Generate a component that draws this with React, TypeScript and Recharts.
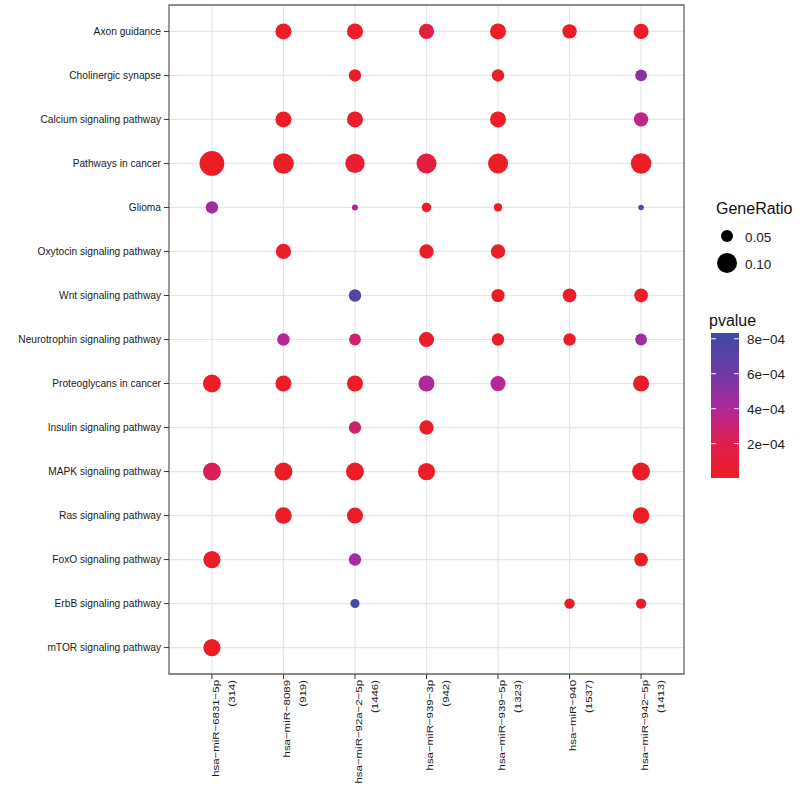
import React from "react";
import {
  ScatterChart,
  Scatter,
  XAxis,
  YAxis,
  ZAxis,
  CartesianGrid,
  ReferenceArea,
  Cell,
} from "recharts";

const pathways = [
  "Axon guidance",
  "Cholinergic synapse",
  "Calcium signaling pathway",
  "Pathways in cancer",
  "Glioma",
  "Oxytocin signaling pathway",
  "Wnt signaling pathway",
  "Neurotrophin signaling pathway",
  "Proteoglycans in cancer",
  "Insulin signaling pathway",
  "MAPK signaling pathway",
  "Ras signaling pathway",
  "FoxO signaling pathway",
  "ErbB signaling pathway",
  "mTOR signaling pathway",
];

const clusters = [
  "hsa−miR−6831−5p",
  "hsa−miR−8089",
  "hsa−miR−92a−2−5p",
  "hsa−miR−939−3p",
  "hsa−miR−939−5p",
  "hsa−miR−940",
  "hsa−miR−942−5p",
];
const clusterCounts = ["(314)", "(919)", "(1446)", "(942)", "(1323)", "(1537)", "(1413)"];

const _ = null;
// GeneRatio per pathway (rows) x cluster (columns)
const geneRatio: (number | null)[][] = [
  [_, 0.072, 0.072, 0.067, 0.072, 0.062, 0.067],
  [_, _, 0.052, _, 0.052, _, 0.049],
  [_, 0.072, 0.072, _, 0.072, _, 0.062],
  [0.142, 0.105, 0.095, 0.1, 0.1, _, 0.105],
  [0.052, _, 0.029, 0.04, 0.035, _, 0.028],
  [_, 0.067, _, 0.062, 0.062, _, _],
  [_, _, 0.052, _, 0.056, 0.059, 0.059],
  [_, 0.052, 0.049, 0.067, 0.052, 0.052, 0.049],
  [0.085, 0.072, 0.072, 0.072, 0.067, _, 0.072],
  [_, _, 0.052, 0.062, _, _, _],
  [0.085, 0.085, 0.085, 0.08, _, _, 0.085],
  [_, 0.076, 0.072, _, _, _, 0.076],
  [0.08, _, 0.052, _, _, _, 0.059],
  [_, _, 0.038, _, _, 0.043, 0.043],
  [0.08, _, _, _, _, _, _],
];

// p values per pathway (rows) x cluster (columns)
const pvalue: (number | null)[][] = [
  [_, 2e-5, 3e-5, 1.1e-4, 2e-5, 2e-5, 3e-5],
  [_, _, 3e-5, _, 3e-5, _, 5.2e-4],
  [_, 2e-5, 3e-5, _, 2e-5, _, 3.5e-4],
  [1e-5, 2e-5, 7e-5, 1.2e-4, 1e-5, _, 2e-5],
  [4.5e-4, _, 3.5e-4, 2e-5, 2e-5, _, 6e-4],
  [_, 2e-5, _, 2e-5, 2e-5, _, _],
  [_, _, 7.2e-4, _, 2e-5, 2e-5, 2e-5],
  [_, 3.8e-4, 2.8e-4, 2e-5, 2e-5, 2e-5, 4.5e-4],
  [2e-5, 2e-5, 2e-5, 4e-4, 3.8e-4, _, 3e-5],
  [_, _, 2.8e-4, 2e-5, _, _, _],
  [2.3e-4, 2e-5, 2e-5, 2e-5, _, _, 2e-5],
  [_, 2e-5, 2e-5, _, _, _, 2e-5],
  [2e-5, _, 4.3e-4, _, _, _, 2e-5],
  [_, _, 8.2e-4, _, _, 2e-5, 3e-5],
  [2e-5, _, _, _, _, _, _],
];

const sizeLegendValues = [0.05, 0.1];
const pvalueTicks = [2e-4, 4e-4, 6e-4, 8e-4];
const pvalueTickLabels = ["2e−04", "4e−04", "6e−04", "8e−04"];

const P_MIN = 3.5e-6;
const P_MAX = 8.33e-4;
const Z_DOMAIN: [number, number] = [0.0219, 0.15];
const Z_RANGE: [number, number] = [0, 515];

const colorStops: [number, string][] = [
  [0, "#EE1D25"],
  [0.24, "#DE1F4E"],
  [0.48, "#B0289A"],
  [0.72, "#6E3AA6"],
  [1, "#3E4BA5"],
];

function hexToRgb(h: string) {
  return [
    parseInt(h.slice(1, 3), 16),
    parseInt(h.slice(3, 5), 16),
    parseInt(h.slice(5, 7), 16),
  ];
}

function pColor(p: number) {
  const t = Math.min(1, Math.max(0, (p - P_MIN) / (P_MAX - P_MIN)));
  for (let i = 0; i < colorStops.length - 1; i++) {
    const [t0, c0] = colorStops[i];
    const [t1, c1] = colorStops[i + 1];
    if (t >= t0 && t <= t1) {
      const f = (t - t0) / (t1 - t0);
      const a = hexToRgb(c0);
      const b = hexToRgb(c1);
      const c = a.map((v, k) => Math.round(v + (b[k] - v) * f));
      return `rgb(${c[0]},${c[1]},${c[2]})`;
    }
  }
  return colorStops[colorStops.length - 1][1];
}

function sizeRadius(v: number) {
  const area =
    ((v - Z_DOMAIN[0]) / (Z_DOMAIN[1] - Z_DOMAIN[0])) * (Z_RANGE[1] - Z_RANGE[0]) + Z_RANGE[0];
  return Math.sqrt(Math.max(area, 0) / Math.PI);
}

const points: { x: number; y: number; z: number; p: number }[] = [];
geneRatio.forEach((row, ri) => {
  row.forEach((g, ci) => {
    const p = pvalue[ri][ci];
    if (g != null && p != null) points.push({ x: ci, y: ri, z: g, p });
  });
});

const FONT = "'Liberation Sans', Arial, Helvetica, sans-serif";

const YTick = (props: any) => {
  const { x, y, payload } = props;
  return (
    <text
      x={x}
      y={y}
      textAnchor="end"
      dominantBaseline="central"
      fontFamily={FONT}
      fontSize={10.2}
      fill="#1a1a1a"
    >
      {pathways[payload.value]}
    </text>
  );
};

const XTick = (props: any) => {
  const { x, y, payload } = props;
  const i = payload.value;
  return (
    <g transform={`translate(${x},${y}) rotate(-90) scale(1.19,1)`}>
      <text
        x={0}
        y={3}
        textAnchor="end"
        dominantBaseline="central"
        fontFamily={FONT}
        fontSize={9.6}
        fill="#1a1a1a"
      >
        {clusters[i]}
      </text>
      <text
        x={0}
        y={19}
        textAnchor="end"
        dominantBaseline="central"
        fontFamily={FONT}
        fontSize={9.6}
        fill="#1a1a1a"
      >
        {clusterCounts[i]}
      </text>
    </g>
  );
};

const BAR_TOP = 333;
const BAR_BOTTOM = 478;
const barY = (p: number) => BAR_BOTTOM - ((p - P_MIN) / (P_MAX - P_MIN)) * (BAR_BOTTOM - BAR_TOP);

const LegendPanel = () => (
  <svg
    width={100}
    height={787}
    style={{ position: "absolute", left: 700, top: 0 }}
    viewBox="700 0 100 787"
  >
    <defs>
      <linearGradient id="pgrad" x1="0" y1="1" x2="0" y2="0">
        {colorStops.map(([t, c]) => (
          <stop key={t} offset={`${t * 100}%`} stopColor={c} />
        ))}
      </linearGradient>
    </defs>
    <text x={716} y={214} fontFamily={FONT} fontSize={16} fill="#111">
      GeneRatio
    </text>
    {sizeLegendValues.map((v, i) => (
      <g key={v}>
        <circle cx={727} cy={236 + i * 27} r={sizeRadius(v)} fill="#000" />
        <text
          x={745}
          y={237 + i * 27}
          dominantBaseline="central"
          fontFamily={FONT}
          fontSize={13.5}
          fill="#222"
        >
          {v.toFixed(2)}
        </text>
      </g>
    ))}
    <text x={709} y={326} fontFamily={FONT} fontSize={16} fill="#111">
      pvalue
    </text>
    <rect x={711} y={BAR_TOP} width={28} height={BAR_BOTTOM - BAR_TOP} fill="url(#pgrad)" />
    {pvalueTicks.map((p, i) => (
      <g key={p}>
        <line x1={711} x2={716} y1={barY(p)} y2={barY(p)} stroke="#fff" strokeWidth={1} />
        <line x1={734} x2={739} y1={barY(p)} y2={barY(p)} stroke="#fff" strokeWidth={1} />
        <text
          x={747}
          y={barY(p) + 1}
          dominantBaseline="central"
          fontFamily={FONT}
          fontSize={13.5}
          fill="#222"
        >
          {pvalueTickLabels[i]}
        </text>
      </g>
    ))}
  </svg>
);

export default function App() {
  return (
    <div style={{ position: "absolute", left: 0, top: 0, width: 800, height: 787, background: "#fff" }}>
      <ScatterChart
        width={800}
        height={787}
        margin={{ top: 5, right: 116, bottom: 0, left: 9 }}
      >
        <CartesianGrid stroke="#E4E6EC" strokeWidth={1.2} syncWithTicks />
        <XAxis
          type="number"
          dataKey="x"
          domain={[-0.6, 6.6]}
          ticks={[0, 1, 2, 3, 4, 5, 6]}
          interval={0}
          allowDataOverflow
          height={113}
          axisLine={false}
          tickSize={5}
          tickMargin={1}
          tickLine={{ stroke: "#333" }}
          tick={<XTick />}
        />
        <YAxis
          type="number"
          dataKey="y"
          domain={[-0.6, 14.6]}
          reversed
          ticks={[0, 1, 2, 3, 4, 5, 6, 7, 8, 9, 10, 11, 12, 13, 14]}
          interval={0}
          allowDataOverflow
          width={160}
          axisLine={false}
          tickSize={5}
          tickMargin={3}
          tickLine={{ stroke: "#333" }}
          tick={<YTick />}
        />
        <ZAxis type="number" dataKey="z" domain={Z_DOMAIN} range={Z_RANGE} />
        <Scatter data={points} isAnimationActive={false} shape="circle">
          {points.map((pt, i) => (
            <Cell key={i} fill={pColor(pt.p)} />
          ))}
        </Scatter>
        <ReferenceArea
          x1={-0.6}
          x2={6.6}
          y1={-0.6}
          y2={14.6}
          fill="none"
          fillOpacity={0}
          stroke="#666"
          strokeWidth={1.3}
          ifOverflow="visible"
        />
      </ScatterChart>
      <LegendPanel />
    </div>
  );
}
